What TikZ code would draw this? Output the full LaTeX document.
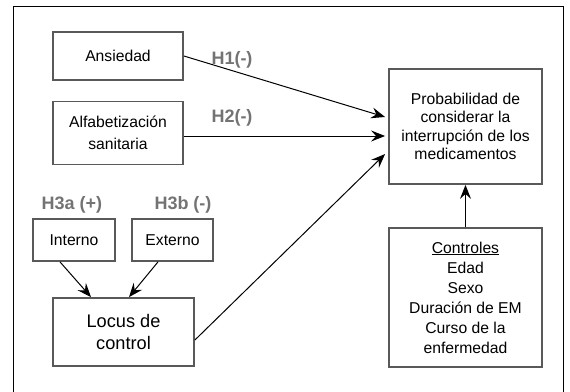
\documentclass[tikz,border=0pt]{standalone}
\usepackage{fontspec}
\setmainfont{Liberation Sans}
\usepackage{tikz}
\usetikzlibrary{positioning}
\usetikzlibrary{arrows.meta}
\tikzset{>={Stealth[width=11pt,length=14pt,inset=5pt]}}

\begin{document}
\begin{tikzpicture}[x=1pt, y=-1pt, box/.style={rectangle, draw=black!65, line width=1.8pt, fill=white, align=center, inner sep=0pt, font=\fontsize{15.7}{20}\selectfont}, hlabel/.style={draw=none, text=black!55, font=\fontsize{18}{20}\selectfont\bfseries}, link/.style={->, line width=1pt}]

    \useasboundingbox (0,0) rectangle (570,391);
    \clip (0,0) rectangle (570,391);
    \draw[line width=1pt] (13,6) rectangle (563,400);

    %Nodes
    \node[box, minimum width=130pt, minimum height=48pt](ansiedad) at (118,56){Ansiedad};
    \node[box, minimum width=130pt, minimum height=63pt, font=\fontsize{15.7}{21.5}\selectfont](alfab) at (118,133){Alfabetización\\sanitaria};
    \node[box, minimum width=153pt, minimum height=115pt, font=\fontsize{15.7}{18.5}\selectfont](prob) at (465.5,126.5){Probabilidad de\\considerar la\\interrupción de los\\medicamentos};
    \node[box, minimum width=82pt, minimum height=42pt](interno) at (74,240){Interno};
    \node[box, minimum width=81pt, minimum height=42pt](externo) at (172.5,240){Externo};
    \node[box, minimum width=141pt, minimum height=68pt, font=\fontsize{18.2}{21.7}\selectfont](locus) at (123.5,332){Locus de\\control};
    \node[box, minimum width=153pt, minimum height=139pt, font=\fontsize{15.7}{20}\selectfont](controles) at (465.5,297.5){\underline{Controles}\\Edad\\Sexo\\Duración de EM\\Curso de la\\enfermedad};

    \node[hlabel](h1) at (232,60){H1(-)};
    \node[hlabel](h2) at (232,118){H2(-)};
    \node[hlabel](h3a) at (72,205){H3a (+)};
    \node[hlabel](h3b) at (183,205){H3b (-)};

    %Lines
    \draw[link] (ansiedad.east) -- ([xshift=-3pt, yshift=9.5pt]prob.west);
    \draw[link] ([yshift=-3pt]alfab.east) -- ([xshift=-3pt, yshift=-9.5pt]prob.west);
    \draw[link] ([yshift=-8pt]locus.east) -- ([xshift=-3pt, yshift=-27.5pt]prob.west);
    \draw[link] ([xshift=-14pt]interno.south) -- ([xshift=-32.5pt]locus.north);
    \draw[link] ([xshift=-14.5pt]externo.south) -- ([xshift=5.5pt]locus.north);
    \draw[link] (controles.north) -- (prob.south);

\end{tikzpicture}
\end{document}
